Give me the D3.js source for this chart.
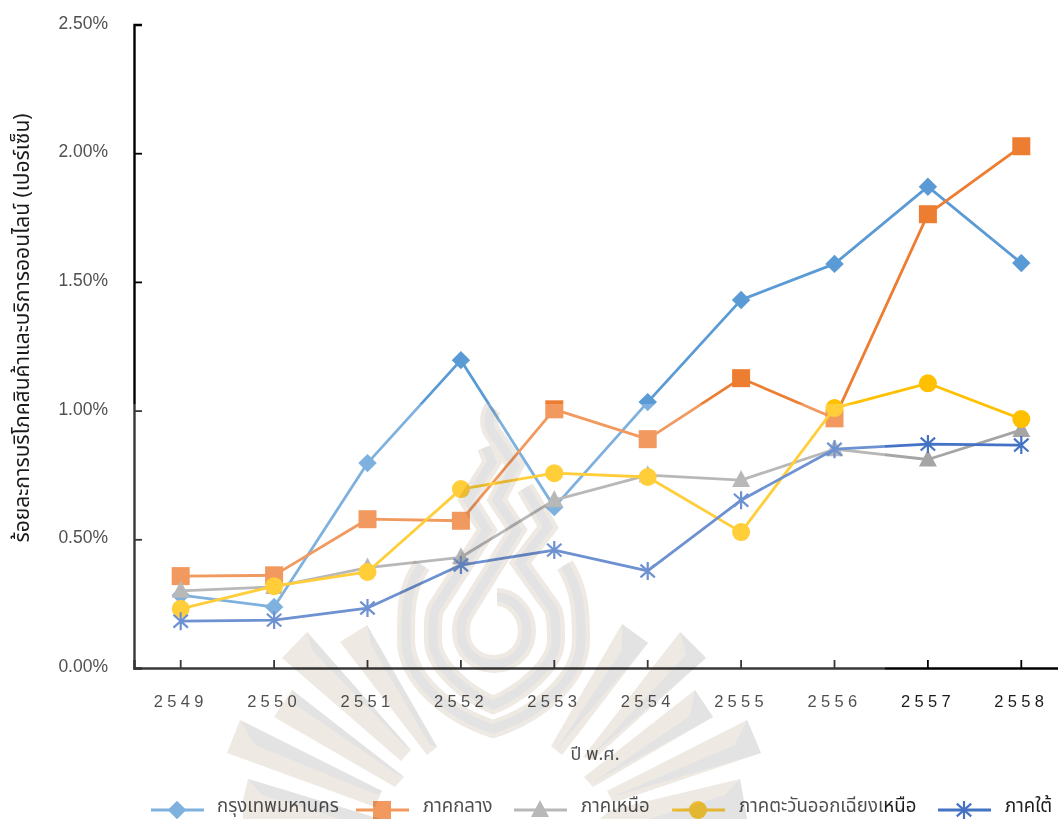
<!DOCTYPE html>
<html lang="th">
<head>
<meta charset="utf-8">
<script src="https://cdn.jsdelivr.net/npm/d3@7"></script>
<style>
html,body{margin:0;padding:0;background:#fff}
svg{display:block}
.num{font-family:"Liberation Sans",sans-serif}
.thai{font-family:"Noto Sans Thai","Loma","Garuda","Noto Sans","DejaVu Sans","Liberation Sans",sans-serif}
</style>
</head>
<body>
<svg id="chart" width="1058" height="819"></svg>
<script>
// Share of online goods and services consumption by region, 2549-2558 B.E.
const years = ["2549","2550","2551","2552","2553","2554","2555","2556","2557","2558"];
const yTicks = [0, 0.5, 1, 1.5, 2, 2.5];
const bangkok = [0.283, 0.237, 0.796, 1.196, 0.625, 1.033, 1.43, 1.57, 1.87, 1.573];
const central = [0.357, 0.36, 0.578, 0.572, 1.005, 0.889, 1.126, 0.97, 1.763, 2.027];
const north = [0.30, 0.315, 0.39, 0.43, 0.652, 0.749, 0.73, 0.85, 0.81, 0.925];
const northeast = [0.23, 0.318, 0.373, 0.695, 0.757, 0.742, 0.528, 1.01, 1.106, 0.967];
const south = [0.182, 0.186, 0.233, 0.40, 0.458, 0.377, 0.652, 0.85, 0.87, 0.866];
const seriesNames = ["กรุงเทพมหานคร","ภาคกลาง","ภาคเหนือ","ภาคตะวันออกเฉียงเหนือ","ภาคใต้"];
const seriesColors = ["#5B9BD5","#ED7D31","#A5A5A5","#FFC000","#4472C4"];
const seriesMarkers = ["diamond","square","triangle","circle","star"];
const seriesValues = [bangkok, central, north, northeast, south];
const legendLineStart = [151, 356, 514, 672, 938];
const legendTextStart = [217, 423, 581, 739, 1005];

const svg = d3.select("#chart");
const plot = {left:134, right:1068, top:24.5, bottom:668};
const x = d3.scaleBand().domain(years).range([plot.left, plot.right]);
const y = d3.scaleLinear().domain([0,2.5]).range([plot.bottom, plot.top]);
const cx = d => x(d) + x.bandwidth()/2;

// Marker shapes, centred on the origin
function markerPath(kind){
  const p = d3.path();
  if(kind === "diamond") return d3.symbol().type(d3.symbolSquare).size(170)();
  if(kind === "square") return d3.symbol().type(d3.symbolSquare).size(324)();
  if(kind === "circle") return d3.symbol().type(d3.symbolCircle).size(Math.PI*81)();
  if(kind === "triangle"){
    p.moveTo(0,-10); p.lineTo(9,7); p.lineTo(-9,7); p.closePath();
    return p.toString();
  }
  const r = 9, k = 7.2, h = 6.4;
  p.moveTo(0,-r); p.lineTo(0,r);
  p.moveTo(-k,-h); p.lineTo(k,h);
  p.moveTo(-k,h); p.lineTo(k,-h);
  return p.toString();
}
function drawMarker(g, kind, color, px, py){
  const m = g.append("path").attr("d", markerPath(kind));
  let tf = `translate(${px},${py})`;
  if(kind === "diamond") tf += " rotate(45)";
  m.attr("transform", tf);
  if(kind === "star") m.attr("fill","none").attr("stroke",color).attr("stroke-width",2.2);
  else m.attr("fill",color);
}

// Axes
const yAxis = d3.axisLeft(y).tickValues(yTicks).tickSize(-8).tickPadding(26)
  .tickFormat(d => d.toFixed(2) + "%");
const yG = svg.append("g").attr("transform",`translate(${plot.left},0)`).call(yAxis);
const xAxis = d3.axisBottom(x).tickSize(-8).tickPadding(27);
const xG = svg.append("g").attr("transform",`translate(0,${plot.bottom})`).call(xAxis);
[yG,xG].forEach(g => {
  g.select(".domain").attr("stroke","#000").attr("stroke-width",2.4);
  g.selectAll(".tick line").attr("stroke","#000").attr("stroke-width",1.8);
  g.selectAll("text").attr("class","num");
});
yG.selectAll("text").attr("fill","#505050").style("font-size","17.5px").attr("dy","0.2em");
xG.selectAll("text").attr("fill","#1c1c1c").style("font-size","16.5px").style("letter-spacing","4.3px");

// Axis titles
svg.append("text").attr("class","thai")
  .attr("transform","translate(29,328) rotate(-90)")
  .attr("text-anchor","middle").attr("fill","#1a1a1a").style("font-size","21px")
  .text("ร้อยละการบริโภคสินค้าและบริการออนไลน์ (เปอร์เซ็น)");
svg.append("text").attr("class","thai")
  .attr("x",595).attr("y",760).attr("text-anchor","middle").attr("fill","#1c1c1c").style("font-size","18px")
  .text("ปี พ.ศ.");

// Series lines and markers
const line = d3.line().x((d,i) => cx(years[i])).y(d => y(d));
seriesValues.forEach((vals,s) => {
  const g = svg.append("g");
  g.append("path").datum(vals).attr("d",line).attr("fill","none")
    .attr("stroke",seriesColors[s]).attr("stroke-width",2.8).attr("stroke-linejoin","round");
  vals.forEach((v,i) => drawMarker(g, seriesMarkers[s], seriesColors[s], cx(years[i]), y(v)));
});

// Legend row
seriesNames.forEach((name,s) => {
  const g = svg.append("g");
  const x0 = legendLineStart[s];
  g.append("line").attr("x1",x0).attr("x2",x0+53).attr("y1",810).attr("y2",810)
    .attr("stroke",seriesColors[s]).attr("stroke-width",2.8);
  drawMarker(g, seriesMarkers[s], seriesColors[s], x0+26, 810);
  g.append("text").attr("class","thai").attr("x",legendTextStart[s]).attr("y",812)
    .attr("fill","#1c1c1c").style("font-size","18.6px").text(name);
});

// Pale institutional emblem laid across the lower part of the plot
svg.append("rect").attr("x",128).attr("y",404).attr("width",757).attr("height",415)
  .attr("fill","#fff").attr("fill-opacity",0.22);

const beige = "#EEE9E3", grey = "#E3E3E3";
const rays = [
  [[307,632],[411,750],[401,761],[282,658],[312,650],[404,745]],
  [[367,625],[437,747],[427,755],[340,642],[371,645],[430,745]],
  [[292,690],[404,777],[395,787],[274,717],[296,705],[398,775]],
  [[240,720],[382,791],[375,807],[227,753],[255,745],[378,795]],
  [[248,779],[380,819],[243,819],[243,800],[262,795],[340,819]],
  [[622,624],[648,643],[562,755],[551,746],[622,650],[556,750]],
  [[680,632],[706,658],[593,760],[583,757],[686,655],[590,757]],
  [[695,690],[713,717],[593,787],[584,777],[690,716],[592,783]],
  [[747,720],[761,753],[613,803],[607,791],[735,745],[612,797]],
  [[740,779],[747,819],[600,819],[610,810],[725,795],[650,819]]
];
const flames = [
  "M422,565 C405,590 406,610 406,640 C406,680 450,715 493,729 C537,715 581,680 581,640 C581,610 580,590 565,565",
  "M486,447 L492,462 L468,500 L487,530 L436,608 C432,615 433,630 433,640 C433,665 465,693 493,705 C522,693 556,665 556,640 C556,625 556,615 552,608 L520,563 L548,527 L525,488",
  "M493,408 C488,415 488,425 492,432 L515,465 L497,500 L517,530 L466,612 C462,618 461,625 461,631 C461,650 475,664 494,664 C512,664 527,650 527,631 C527,612 512,597 497,597"
];
const mark = svg.append("g").style("mix-blend-mode","multiply");
rays.forEach(r => {
  mark.append("path").attr("d", d3.line()(r.slice(0,4)) + "Z").attr("fill",beige);
  mark.append("path").attr("d", d3.line()([r[0],r[1],r[5],r[4]]) + "Z").attr("fill",grey);
});
flames.forEach(f => {
  mark.append("path").attr("d",f).attr("fill","none").attr("stroke",beige).attr("stroke-width",18);
  mark.append("path").attr("d",f).attr("fill","none").attr("stroke",grey).attr("stroke-width",9);
});
</script>
</body>
</html>
